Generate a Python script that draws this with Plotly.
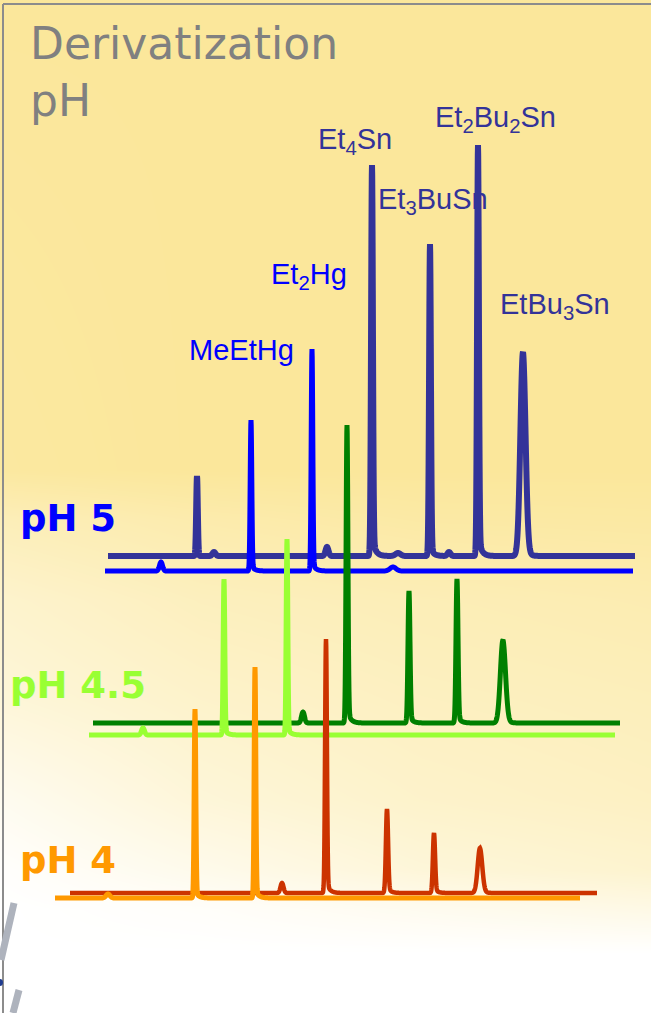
import numpy as np
import plotly.graph_objects as go

W, H = 651, 1013

# ---- chromatogram data ----
# per peak: retention position, height above baseline, width (sigma), tailing fraction
# pH 5 - organotin channel
sn5_pos = [197, 214, 327, 372, 398, 430, 449, 478, 523]
sn5_h = [80, 4, 9, 391, 3, 312, 4, 411, 204]
sn5_sig = [0.8, 1.5, 1.5, 0.9, 2.5, 0.9, 1.5, 0.9, 2.6]
sn5_tail = [0.0, 0.0, 0.0, 0.05, 0.0, 0.03, 0.0, 0.05, 0.08]

# pH 5 - organomercury channel
hg5_pos = [161, 251, 312, 393]
hg5_h = [9, 151, 222, 4]
hg5_sig = [1.5, 0.8, 0.8, 3.0]
hg5_tail = [0.0, 0.04, 0.04, 0.0]

# pH 4.5 - organotin channel
sn45_pos = [303, 347, 409, 457, 503]
sn45_h = [11, 298, 132, 144, 83]
sn45_sig = [1.5, 0.9, 1.0, 1.0, 2.6]
sn45_tail = [0.0, 0.05, 0.06, 0.06, 0.1]

# pH 4.5 - organomercury channel
hg45_pos = [143, 224, 287]
hg45_h = [7, 156, 196]
hg45_sig = [1.5, 0.8, 0.8]
hg45_tail = [0.0, 0.04, 0.04]

# pH 4 - organotin channel
sn4_pos = [282, 326, 387, 434, 480]
sn4_h = [10, 254, 84, 60, 45]
sn4_sig = [1.5, 0.9, 1.1, 1.1, 2.3]
sn4_tail = [0.0, 0.05, 0.08, 0.08, 0.1]

# pH 4 - organomercury channel
hg4_pos = [108, 195, 255]
hg4_h = [4, 189, 231]
hg4_sig = [2.0, 0.8, 0.8]
hg4_tail = [0.0, 0.04, 0.04]

# stacked display: name, colour, line width, x start, x end, baseline level
traces = [
    ("pH 5 Sn", "#333399", 6, 108, 635, 457, sn5_pos, sn5_h, sn5_sig, sn5_tail),
    ("pH 5 Hg", "#0000FF", 5, 105, 633, 442, hg5_pos, hg5_h, hg5_sig, hg5_tail),
    ("pH 4.5 Sn", "#008000", 5, 93, 620, 290, sn45_pos, sn45_h, sn45_sig, sn45_tail),
    ("pH 4.5 Hg", "#99FF33", 5, 89, 615, 278, hg45_pos, hg45_h, hg45_sig, hg45_tail),
    ("pH 4 Sn", "#CC3300", 4.5, 70, 597, 120, sn4_pos, sn4_h, sn4_sig, sn4_tail),
    ("pH 4 Hg", "#FF9900", 5, 55, 580, 115, hg4_pos, hg4_h, hg4_sig, hg4_tail),
]

compound_labels = [
    ("MeEtHg", 241, 663, "#0000FF"),
    ("Et<sub>2</sub>Hg", 309, 737, "#0000FF"),
    ("Et<sub>4</sub>Sn", 355, 872, "#333399"),
    ("Et<sub>3</sub>BuSn", 433, 812, "#333399"),
    ("Et<sub>2</sub>Bu<sub>2</sub>Sn", 495, 894, "#333399"),
    ("EtBu<sub>3</sub>Sn", 555, 707, "#333399"),
]

ph_labels = [
    ("pH 5", 18, 495, "#0000FF"),
    ("pH 4.5", 8, 328, "#99FF33"),
    ("pH 4", 18, 153, "#FF9900"),
]

YELLOW = "#FBE79B"

# background fade (0 = slide yellow, 1 = white), sampled across the slide
bg_x = [0, 200, 420, 651]
bg_y = [1013, 543, 493, 413, 313, 213, 143, 103, 60, 0]
bg_fade = [
    [0.00, 0.00, 0.00, 0.00],
    [0.05, 0.00, 0.00, 0.00],
    [0.30, 0.18, 0.10, 0.08],
    [0.50, 0.35, 0.28, 0.22],
    [0.62, 0.48, 0.38, 0.32],
    [0.85, 0.62, 0.48, 0.40],
    [0.97, 0.80, 0.62, 0.52],
    [1.00, 0.95, 0.85, 0.75],
    [1.00, 1.00, 1.00, 1.00],
    [1.00, 1.00, 1.00, 1.00],
]


def chromatogram(x0, x1, base, pos, h, sig, tail):
    x = np.arange(x0, x1 + 0.2, 0.2)
    y = np.full_like(x, float(base))
    for p, a, s, t in zip(pos, h, sig, tail):
        main = (1 - t) * a * np.exp(-0.5 * ((x - p) / s) ** 2)
        d = x - p
        tail_part = t * a * np.where(d > 0, np.exp(-np.clip(d, 0, None) / 3.0),
                                     np.exp(-0.5 * (d / s) ** 2))
        y += main + tail_part
    return x, y


fig = go.Figure()

fig.add_trace(go.Heatmap(
    x=bg_x, y=bg_y, z=bg_fade, zmin=0, zmax=1, zsmooth="best",
    colorscale=[[0, YELLOW], [1, "#FFFFFF"]],
    showscale=False, hoverinfo="skip",
))

for name, color, lw, x0, x1, base, pos, h, sig, tail in traces:
    x, y = chromatogram(x0, x1, base, pos, h, sig, tail)
    fig.add_trace(go.Scatter(
        x=x, y=y, mode="lines", name=name,
        line=dict(color=color, width=lw, simplify=False),
        showlegend=False,
    ))

annotations = []
for text, x, y, color in compound_labels:
    annotations.append(dict(
        x=x, y=y, text=text, showarrow=False, xanchor="center", yanchor="middle",
        font=dict(family="Liberation Sans Narrow, Arial Narrow, Liberation Sans", size=29, color=color),
    ))
for text, x, y, color in ph_labels:
    annotations.append(dict(
        x=x, y=y, text=f"<b>{text}</b>", showarrow=False, xanchor="left", yanchor="middle",
        font=dict(family="DejaVu Sans", size=37, color=color),
    ))
annotations.append(dict(
    x=28, y=997, text="Derivatization<br>pH", showarrow=False, xanchor="left", yanchor="top",
    align="left", font=dict(family="DejaVu Sans", size=44, color="#808080"),
))

shapes = [
    dict(type="line", x0=3, x1=W, y0=H - 4, y1=H - 4, line=dict(color="#8C8C8C", width=2)),
    dict(type="line", x0=3, x1=3, y0=0, y1=H - 4, line=dict(color="#8C8C8C", width=2)),
    dict(type="line", x0=14, x1=1, y0=H - 903, y1=H - 960, line=dict(color="#AEB3BD", width=7)),
    dict(type="line", x0=19, x1=13, y0=H - 990, y1=H - 1013, line=dict(color="#AEB3BD", width=7)),
    dict(type="circle", x0=-4, x1=3, y0=H - 986, y1=H - 979,
         fillcolor="#1F3B8F", line=dict(width=0)),
]

fig.update_layout(
    width=W, height=H,
    margin=dict(l=0, r=0, t=0, b=0),
    paper_bgcolor="white", plot_bgcolor="white",
    xaxis=dict(range=[0, W], visible=False, fixedrange=True),
    yaxis=dict(range=[0, H], visible=False, fixedrange=True),
    annotations=annotations, shapes=shapes,
    showlegend=False,
)

fig.write_html("out.html")
